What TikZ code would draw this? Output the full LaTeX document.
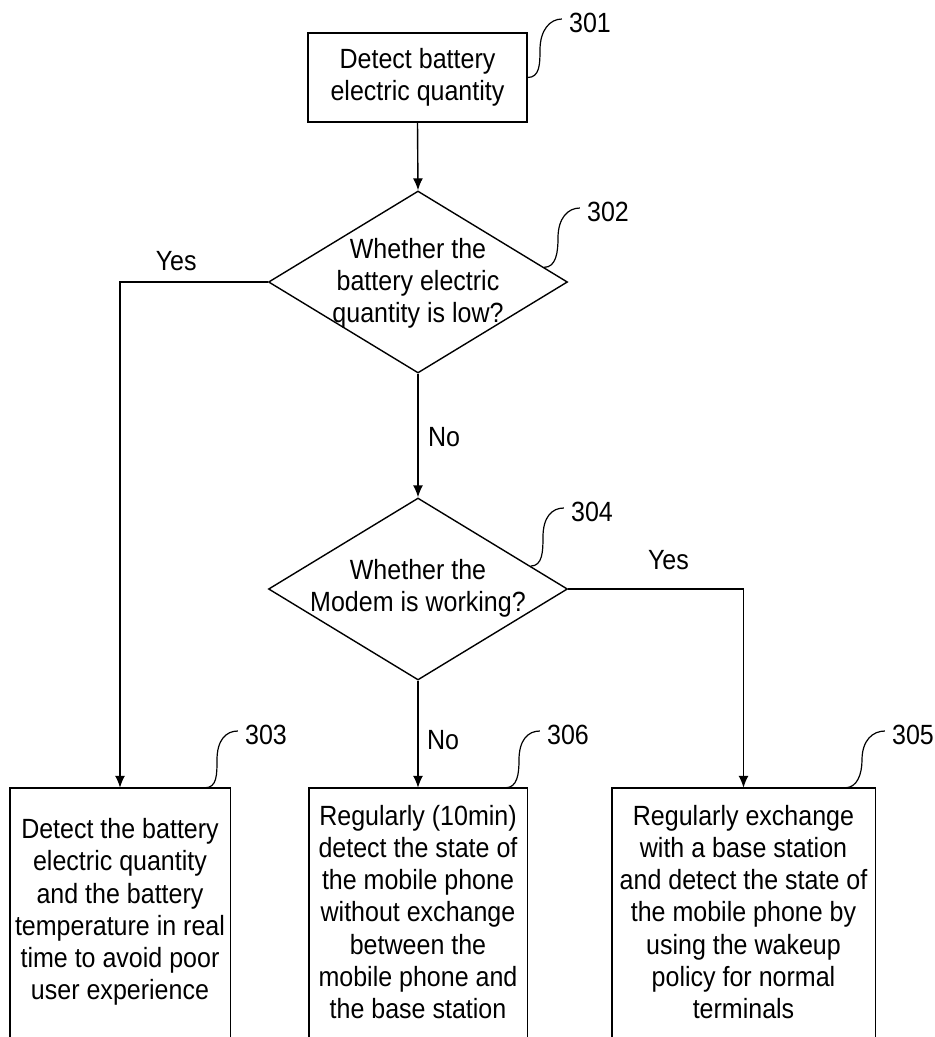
\documentclass[tikz,border=0pt]{standalone}
\usepackage{fontspec}
\setmainfont[FakeStretch=0.9]{Liberation Sans}
\usetikzlibrary{shapes.geometric,arrows.meta,calc}
\tikzset{
  line/.style={line width=1.4pt},
  arr/.style={line, -{Latex[length=12pt,width=10pt]}},
  box/.style={draw, line width=1.4pt, align=center, inner sep=0pt},
  bbox/.style={draw=none, align=center, inner sep=0pt, minimum height=248pt},
  dia/.style={draw, shape=diamond, line width=1.4pt, inner sep=0pt, minimum width=299pt, minimum height=182pt},
  txt/.style={align=center, inner sep=0pt},
  lbl/.style={inner sep=0pt},
  num/.style={inner sep=0pt},
  refc/.style={line width=1.2pt}
}
\begin{document}
\begin{tikzpicture}[x=1pt,y=-1pt,font=\fontsize{27.8}{32.3}\selectfont]
\fill[white] (0,0) rectangle (935,1037);
\clip (0,0) rectangle (935,1037);

% nodes
\node[box, minimum width=219pt, minimum height=89pt] (b301) at (417.5,77.5) {Detect battery\\electric quantity};
\node[dia] (d302) at (418,282) {};
\node[txt] (t302) at (418,283.5) {Whether the\\battery electric\\quantity is low?};
\node[dia] (d304) at (418,589) {};
\node[txt] (t304) at (418,588.5) {Whether the\\Modem is working?};

\node[bbox, minimum width=220pt] (b303) at (120,912) {Detect the battery\\electric quantity\\and the battery\\temperature in real\\time to avoid poor\\user experience};
\node[bbox, minimum width=218pt] (b306) at (418,912) {Regularly (10min)\\detect the state of\\the mobile phone\\without exchange\\between the\\mobile phone and\\the base station};
\node[bbox, minimum width=263pt] (b305) at (743.5,912) {Regularly exchange\\with a base station\\and detect the state of\\the mobile phone by\\using the wakeup\\policy for normal\\terminals};

\foreach \b in {b303,b306,b305}{
  \draw[line] ([yshift=-5pt]\b.south west) -- (\b.north west) -- (\b.north east) -- ([yshift=-5pt]\b.south east);
}

% connectors
\draw[arr] (b301.south) -- (d302.north);
\draw[arr] (d302.west) -| node[lbl, pos=0.31, yshift=21pt] (yes1) {Yes} (b303.north);
\draw[arr] (d302.south) -- node[lbl, pos=0.51, xshift=26pt] (no1) {No} (d304.north);
\draw[arr] (d304.east) -| node[lbl, pos=0.286, yshift=29pt] (yes2) {Yes} (b305.north);
\draw[arr] (d304.south) -- node[lbl, pos=0.556, xshift=25pt] (no2) {No} (b306.north);

% reference numbers
\node[num] (n301) at (590,23) {301};
\node[num] (n302) at (608,212) {302};
\node[num] (n304) at (592,512) {304};
\node[num] (n303) at (266,735) {303};
\node[num] (n306) at (568,735) {306};
\node[num] (n305) at (913,735) {305};

\draw[refc] (b301.east) .. controls +(12,0) and +(0,14) .. (540,50) .. controls +(0,-20) and +(-12,0) .. ([xshift=-7pt,yshift=4pt]n301.west);
\draw[refc] ($(d302.north)!0.84!(d302.east)$) .. controls +(12,0) and +(0,14) .. (558,238) .. controls +(0,-20) and +(-12,0) .. ([xshift=-7pt,yshift=4pt]n302.west);
\draw[refc] ($(d304.north)!0.75!(d304.east)$) .. controls +(12,0) and +(0,14) .. (543,537) .. controls +(0,-20) and +(-12,0) .. ([xshift=-7pt,yshift=4pt]n304.west);
\draw[refc] ($(b303.north west)!0.886!(b303.north east)$) .. controls +(12,0) and +(0,14) .. (217,760) .. controls +(0,-20) and +(-12,0) .. ([xshift=-7pt,yshift=4pt]n303.west);
\draw[refc] ($(b306.north west)!0.9!(b306.north east)$) .. controls +(12,0) and +(0,14) .. (519,760) .. controls +(0,-20) and +(-12,0) .. ([xshift=-7pt,yshift=4pt]n306.west);
\draw[refc] ($(b305.north west)!0.886!(b305.north east)$) .. controls +(12,0) and +(0,14) .. (862,760) .. controls +(0,-20) and +(-12,0) .. ([xshift=-7pt,yshift=4pt]n305.west);
\end{tikzpicture}
\end{document}
